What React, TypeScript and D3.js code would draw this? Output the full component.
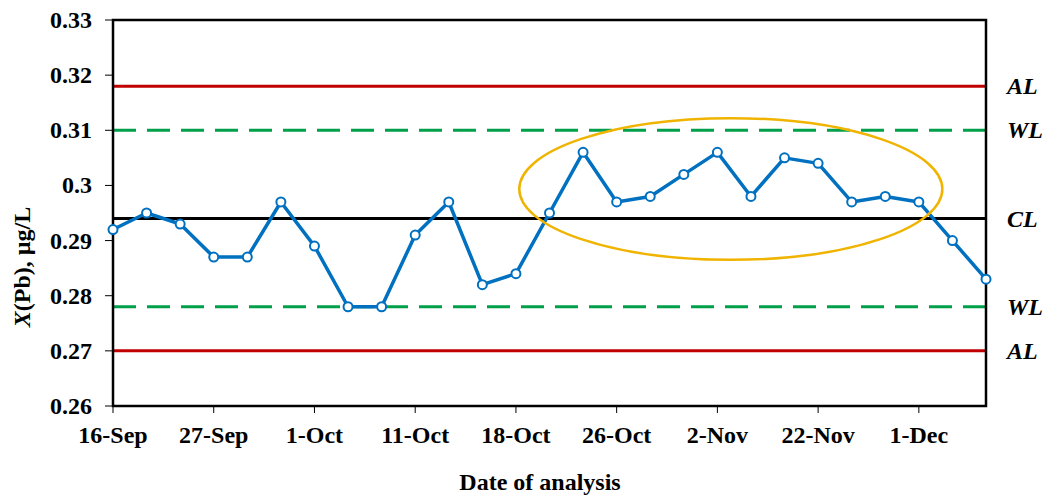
import React from "react";
import * as d3 from "d3";

const dates = ["16-Sep","","","27-Sep","","","1-Oct","","","11-Oct","","","18-Oct","","","26-Oct","","","2-Nov","","","22-Nov","","","1-Dec","",""];
const values = [0.292,0.295,0.293,0.287,0.287,0.297,0.289,0.278,0.278,0.291,0.297,0.282,0.284,0.295,0.306,0.297,0.298,0.302,0.306,0.298,0.305,0.304,0.297,0.298,0.297,0.290,0.283];
const yTicks = [0.26,0.27,0.28,0.29,0.3,0.31,0.32,0.33];
const limits = [
  { name: "AL", value: 0.318, kind: "action" },
  { name: "WL", value: 0.31, kind: "warning" },
  { name: "CL", value: 0.294, kind: "center" },
  { name: "WL", value: 0.278, kind: "warning" },
  { name: "AL", value: 0.27, kind: "action" },
];
const highlight = { from: 12.1, to: 24.7, low: 0.2865, high: 0.3122 };

const W = 1046, H = 495;
const L = 113, R = 986, T = 20, B = 406;

export default function App() {
  const x = d3.scaleLinear().domain([0, values.length - 1]).range([L, R]);
  const y = d3.scaleLinear().domain([0.26, 0.33]).range([B, T]);
  const line = d3.line<number>().x((_, i) => x(i)).y(d => y(d));
  const font = "'Liberation Serif', 'Times New Roman', serif";
  const styleFor = (k: string) =>
    k === "action" ? { stroke: "#C00000", dash: undefined } :
    k === "warning" ? { stroke: "#00A04A", dash: "23 11" } :
    { stroke: "#000", dash: undefined };
  const ex0 = x(highlight.from), ex1 = x(highlight.to);
  const ey0 = y(highlight.high), ey1 = y(highlight.low);
  return (
    <svg width={W} height={H} style={{ position: "absolute", left: 0, top: 0 }} fontFamily={font}>
      <rect x={0} y={0} width={W} height={H} fill="#fff" />
      {limits.map((l, i) => {
        const s = styleFor(l.kind);
        return (
          <g key={i}>
            <line x1={L} x2={R} y1={y(l.value)} y2={y(l.value)} stroke={s.stroke} strokeWidth={3} strokeDasharray={s.dash} />
            <text x={1007} y={y(l.value) + 8} fontSize={24} fontWeight="bold" fontStyle="italic">{l.name}</text>
          </g>
        );
      })}
      <rect x={L} y={T} width={R - L} height={B - T} fill="none" stroke="#000" strokeWidth={2.5} />
      {yTicks.map(t => (
        <g key={t}>
          <line x1={L - 8} x2={L} y1={y(t)} y2={y(t)} stroke="#000" strokeWidth={1} />
          <text x={92} y={y(t) + 8} fontSize={24} fontWeight="bold" textAnchor="end">{d3.format("")(+t.toFixed(2))}</text>
        </g>
      ))}
      {dates.map((d, i) => d ? (
        <g key={i}>
          <line x1={x(i)} x2={x(i)} y1={B} y2={B + 7} stroke="#000" strokeWidth={1} />
          <text x={x(i)} y={443} fontSize={24} fontWeight="bold" textAnchor="middle">{d}</text>
        </g>
      ) : null)}
      <path d={line(values) || ""} fill="none" stroke="#0070C0" strokeWidth={3.5} strokeLinejoin="round" />
      {values.map((v, i) => (
        <circle key={i} cx={x(i)} cy={y(v)} r={4.5} fill="#fff" stroke="#0070C0" strokeWidth={2} />
      ))}
      <ellipse cx={(ex0 + ex1) / 2} cy={(ey0 + ey1) / 2} rx={(ex1 - ex0) / 2} ry={(ey1 - ey0) / 2} fill="none" stroke="#F0B400" strokeWidth={2.5} />
      <text transform={`translate(30,267) rotate(-90)`} fontSize={24} fontWeight="bold" textAnchor="middle">
        <tspan fontStyle="italic">X</tspan>(Pb), µg/L
      </text>
      <text x={540} y={490} fontSize={24} fontWeight="bold" textAnchor="middle">Date of analysis</text>
    </svg>
  );
}
